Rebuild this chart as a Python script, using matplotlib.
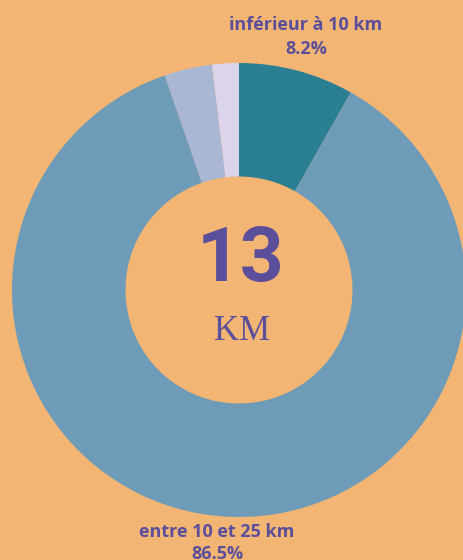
import matplotlib.pyplot as plt

# distance categories, clockwise from 12 o'clock
categories = ["inférieur à 10 km", "entre 10 et 25 km", "entre 25 et 50 km", "supérieur à 50 km"]
shares = [8.2, 86.5, 3.4, 1.9]
colors = ["#2B7F93", "#6E9BB8", "#A9B6D4", "#DCD4EA"]
center_value = "13"
center_unit = "KM"

bg = "#F3B573"
purple = "#5B4F9C"

fig = plt.figure(figsize=(4.63, 5.60), dpi=100)
fig.patch.set_facecolor(bg)
ax = fig.add_axes([0, 0, 1, 1])
ax.set_facecolor(bg)

# donut, pixel-like coordinates (y measured from the bottom)
ax.pie(shares, colors=colors, startangle=90, counterclock=False,
       center=(239, 270), radius=227,
       wedgeprops=dict(width=113.5, linewidth=0))

ax.set_xlim(0, 463)
ax.set_ylim(0, 560)
ax.set_aspect("equal")
ax.axis("off")

# labels for the two big slices
lbl = dict(ha="center", va="center", fontsize=13, fontweight="bold",
           family="Open Sans", color=purple)
ax.text(306, 535, categories[0], **lbl)
ax.text(306, 511, f"{shares[0]}%", **lbl)
ax.text(217, 28, categories[1], **lbl)
ax.text(217, 6, f"{shares[1]}%", **lbl)

# centre text
ax.text(241, 299, center_value, ha="center", va="center",
        fontsize=55, fontweight="bold", family="Roboto", color=purple)
ax.text(242, 228, center_unit, ha="center", va="center",
        fontsize=25, family="Liberation Serif", color=purple)

fig.savefig("out.png", dpi=100, facecolor=bg)
